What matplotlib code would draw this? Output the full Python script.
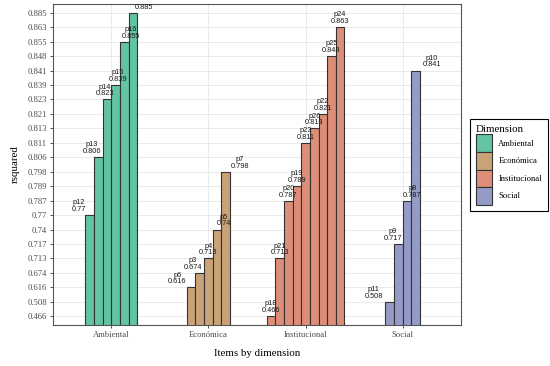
import matplotlib
matplotlib.use("Agg")
import matplotlib.pyplot as plt
from matplotlib.patches import Patch

# ---------------- data ----------------
dimensions = ["Ambiental", "Económica", "Institucional", "Social"]
ambiental_items = ["p12", "p13", "p14", "p15", "p16", "p17"]
ambiental_vals = [0.77, 0.806, 0.823, 0.839, 0.855, 0.885]
economica_items = ["p6", "p3", "p4", "p5", "p7"]
economica_vals = [0.616, 0.674, 0.713, 0.74, 0.798]
institucional_items = ["p18", "p21", "p20", "p19", "p23", "p26", "p22", "p25", "p24"]
institucional_vals = [0.466, 0.713, 0.787, 0.789, 0.811, 0.813, 0.821, 0.848, 0.863]
social_items = ["p11", "p9", "p8", "p10"]
social_vals = [0.508, 0.717, 0.787, 0.841]

colors = {"Ambiental": "#62C4A1", "Económica": "#C9A277",
          "Institucional": "#DE8D78", "Social": "#959BC9"}

groups = [(ambiental_items, ambiental_vals), (economica_items, economica_vals),
          (institucional_items, institucional_vals), (social_items, social_vals)]

# discrete y levels (rsquared treated as a factor)
levels = sorted(set(ambiental_vals + economica_vals + institucional_vals + social_vals))
rank = {v: i + 1 for i, v in enumerate(levels)}

plt.rcParams["font.family"] = ["Liberation Serif", "DejaVu Serif"]

fig = plt.figure(figsize=(5.5, 3.66), dpi=100)
ax = fig.add_axes([53 / 550, 1 - 325 / 366, (461 - 53) / 550, (325 - 4) / 366])

nmax = max(len(it) for it, _ in groups)
bw = 0.8 / nmax
for gi, (dim, (items, vals)) in enumerate(zip(dimensions, groups)):
    center = gi + 1
    n = len(items)
    xs = [center + (i - (n - 1) / 2) * bw for i in range(n)]
    hs = [rank[v] for v in vals]
    ax.bar(xs, hs, width=bw, color=colors[dim], edgecolor="#333333",
           linewidth=0.8, zorder=2)
    lw = 0.8 / n
    for i, (it, v) in enumerate(zip(items, vals)):
        lx = center + (i - (n - 1) / 2) * lw
        ax.annotate(f"{it}\n{v:g}", xy=(lx, rank[v]), xytext=(0, 1.5),
                    textcoords="offset points", ha="center", va="bottom",
                    fontsize=5.3, family=["Liberation Sans", "DejaVu Sans"],
                    linespacing=0.95, color="#1a1a1a", zorder=3,
                    annotation_clip=False, clip_on=True)

ax.set_xlim(0.4, 4.6)
ax.set_ylim(0.4, len(levels) + 0.6)
ax.set_xticks(range(1, 5))
ax.set_xticklabels(dimensions)
ax.set_yticks(range(1, len(levels) + 1))
ax.set_yticklabels([f"{v:g}" for v in levels])
ax.tick_params(axis="both", labelsize=6.2, colors="#333333", length=2.5,
               width=0.6, labelcolor="#4D4D4D", pad=2)
ax.grid(True, color="#E6E6E6", linewidth=0.6, zorder=0)
ax.set_axisbelow(True)
for s in ax.spines.values():
    s.set_color("#555555")
    s.set_linewidth(0.8)

ax.set_xlabel("Items by dimension", fontsize=7.8, labelpad=7)
ax.set_ylabel("rsquared", fontsize=7.8, labelpad=5)

handles = [Patch(facecolor=colors[d], edgecolor="#333333", linewidth=0.8, label=d)
           for d in dimensions]
leg = fig.legend(handles=handles, title="Dimension", loc="center right",
                 bbox_to_anchor=(548 / 550, 1 - 165 / 366), fontsize=6.2,
                 title_fontsize=7.8, handlelength=1.95, handleheight=2.75,
                 labelspacing=0.0, handletextpad=0.7, borderpad=0.7,
                 fancybox=False, edgecolor="black", framealpha=1,
                 alignment="left", borderaxespad=0)
leg.get_frame().set_linewidth(0.8)

fig.savefig("out.png", dpi=100)
